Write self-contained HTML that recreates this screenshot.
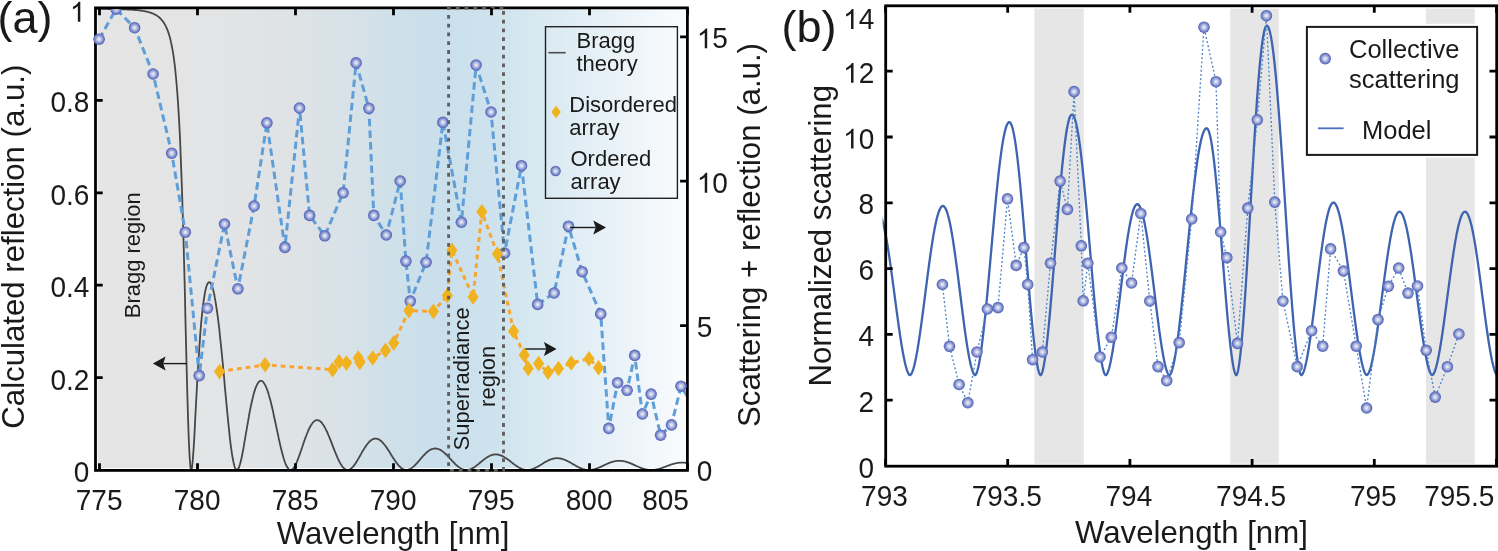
<!DOCTYPE html><html><head><meta charset="utf-8"><style>html,body{margin:0;padding:0;background:#fff;}svg{display:block;will-change:transform;}</style></head><body><svg width="1498" height="551" viewBox="0 0 1498 551">
<defs>
<linearGradient id="bgA" x1="95.5" y1="0" x2="687.3" y2="0" gradientUnits="userSpaceOnUse">
<stop offset="0" stop-color="#e5e5e5"/>
<stop offset="0.2" stop-color="#e3e4e5"/>
<stop offset="0.33" stop-color="#dfe3e6"/>
<stop offset="0.42" stop-color="#d8e2e8"/>
<stop offset="0.5" stop-color="#cfe0e9"/>
<stop offset="0.58" stop-color="#c9dfeb"/>
<stop offset="0.66" stop-color="#cde2ed"/>
<stop offset="0.75" stop-color="#d8e9f1"/>
<stop offset="0.88" stop-color="#e9f2f8"/>
<stop offset="1" stop-color="#fafcfe"/>
</linearGradient>
<radialGradient id="sph" cx="0.5" cy="0.5" r="0.5" fx="0.5" fy="0.5">
<stop offset="0" stop-color="#f3f3f9"/>
<stop offset="0.35" stop-color="#c1c8e6"/>
<stop offset="0.72" stop-color="#7a89cb"/>
<stop offset="1" stop-color="#4b5db4"/>
</radialGradient>
<clipPath id="clipA"><rect x="95.5" y="8" width="591.8" height="462"/></clipPath>
<clipPath id="clipTop"><rect x="95.5" y="9.2" width="591.8" height="461"/></clipPath>
<clipPath id="clipB"><rect x="882.6" y="5.8" width="614.1" height="460.4"/></clipPath>
</defs>
<rect width="1498" height="551" fill="#fff"/>
<rect x="97.7" y="9.7" width="587.6" height="458.3" fill="url(#bgA)"/>
<g clip-path="url(#clipA)">
<path d="M93.6,8.9 L94.0,8.9 L94.4,8.9 L94.8,8.9 L95.2,8.9 L95.6,8.9 L96.0,8.9 L96.4,8.9 L96.8,8.9 L97.1,8.9 L97.5,8.9 L97.9,8.9 L98.3,8.9 L98.7,8.9 L99.1,8.9 L99.5,8.9 L99.9,8.9 L100.3,8.9 L100.7,8.9 L101.1,8.9 L101.5,8.9 L101.9,8.9 L102.2,8.9 L102.6,8.9 L103.0,8.9 L103.4,8.9 L103.8,8.9 L104.2,8.9 L104.6,8.9 L105.0,8.9 L105.4,8.9 L105.8,8.9 L106.2,8.9 L106.6,8.9 L106.9,8.9 L107.3,8.9 L107.7,8.9 L108.1,9.0 L108.5,9.0 L108.9,9.0 L109.3,9.0 L109.7,9.0 L110.1,9.0 L110.5,9.0 L110.9,9.0 L111.3,9.0 L111.7,9.0 L112.0,9.0 L112.4,9.0 L112.8,9.0 L113.2,9.0 L113.6,9.0 L114.0,9.0 L114.4,9.0 L114.8,9.0 L115.2,9.1 L115.6,9.1 L116.0,9.1 L116.4,9.1 L116.7,9.1 L117.1,9.1 L117.5,9.1 L117.9,9.1 L118.3,9.1 L118.7,9.1 L119.1,9.1 L119.5,9.2 L119.9,9.2 L120.3,9.2 L120.7,9.2 L121.1,9.2 L121.5,9.2 L121.8,9.2 L122.2,9.2 L122.6,9.3 L123.0,9.3 L123.4,9.3 L123.8,9.3 L124.2,9.3 L124.6,9.3 L125.0,9.3 L125.4,9.4 L125.8,9.4 L126.2,9.4 L126.5,9.4 L126.9,9.4 L127.3,9.4 L127.7,9.5 L128.1,9.5 L128.5,9.5 L128.9,9.5 L129.3,9.6 L129.7,9.6 L130.1,9.6 L130.5,9.6 L130.9,9.6 L131.3,9.7 L131.6,9.7 L132.0,9.7 L132.4,9.8 L132.8,9.8 L133.2,9.8 L133.6,9.8 L134.0,9.9 L134.4,9.9 L134.8,9.9 L135.2,10.0 L135.6,10.0 L136.0,10.0 L136.3,10.1 L136.7,10.1 L137.1,10.2 L137.5,10.2 L137.9,10.2 L138.3,10.3 L138.7,10.3 L139.1,10.4 L139.5,10.4 L139.9,10.5 L140.3,10.5 L140.7,10.6 L141.1,10.6 L141.4,10.7 L141.8,10.7 L142.2,10.8 L142.6,10.9 L143.0,10.9 L143.4,11.0 L143.8,11.1 L144.2,11.1 L144.6,11.2 L145.0,11.3 L145.4,11.4 L145.8,11.4 L146.1,11.5 L146.5,11.6 L146.9,11.7 L147.3,11.8 L147.7,11.9 L148.1,12.0 L148.5,12.1 L148.9,12.2 L149.3,12.3 L149.7,12.4 L150.1,12.5 L150.5,12.7 L150.9,12.8 L151.2,12.9 L151.6,13.1 L152.0,13.2 L152.4,13.4 L152.8,13.5 L153.2,13.7 L153.6,13.9 L154.0,14.1 L154.4,14.3 L154.8,14.5 L155.2,14.7 L155.6,14.9 L155.9,15.1 L156.3,15.3 L156.7,15.6 L157.1,15.8 L157.5,16.1 L157.9,16.4 L158.3,16.7 L158.7,17.0 L159.1,17.3 L159.5,17.6 L159.9,18.0 L160.3,18.4 L160.7,18.8 L161.0,19.2 L161.4,19.6 L161.8,20.1 L162.2,20.5 L162.6,21.0 L163.0,21.6 L163.4,22.1 L163.8,22.7 L164.2,23.3 L164.6,24.0 L165.0,24.6 L165.4,25.4 L165.7,26.1 L166.1,26.9 L166.5,27.8 L166.9,28.7 L167.3,29.6 L167.7,30.7 L168.1,31.7 L168.5,32.9 L168.9,34.1 L169.3,35.4 L169.7,36.7 L170.1,38.2 L170.5,39.7 L170.8,41.4 L171.2,43.1 L171.6,45.0 L172.0,47.0 L172.4,49.2 L172.8,51.4 L173.2,53.9 L173.6,56.5 L174.0,59.3 L174.4,62.3 L174.8,65.5 L175.2,68.9 L175.5,72.6 L175.9,76.5 L176.3,80.7 L176.7,85.3 L177.1,90.2 L177.5,95.4 L177.9,101.0 L178.3,107.1 L178.7,113.6 L179.1,120.5 L179.5,128.0 L179.9,136.0 L180.3,144.6 L180.6,153.8 L181.0,163.6 L181.4,174.1 L181.8,185.2 L182.2,197.1 L182.6,209.6 L183.0,222.7 L183.4,236.6 L183.8,251.1 L184.2,266.1 L184.6,281.6 L185.0,297.5 L185.3,313.7 L185.7,330.0 L186.1,346.2 L186.5,362.2 L186.9,377.8 L187.3,392.7 L187.7,406.7 L188.1,419.7 L188.5,431.4 L188.9,441.8 L189.3,450.5 L189.7,457.7 L190.1,463.2 L190.4,467.1 L190.8,469.3 L191.2,470.0 L191.6,469.2 L192.0,467.2 L192.4,463.9 L192.8,459.7 L193.2,454.5 L193.6,448.7 L194.0,442.3 L194.4,435.5 L194.8,428.3 L195.1,420.9 L195.5,413.5 L195.9,406.0 L196.3,398.5 L196.7,391.1 L197.1,383.9 L197.5,376.9 L197.9,370.1 L198.3,363.5 L198.7,357.2 L199.1,351.1 L199.5,345.4 L199.9,339.9 L200.2,334.7 L200.6,329.7 L201.0,325.1 L201.4,320.7 L201.8,316.6 L202.2,312.8 L202.6,309.2 L203.0,305.9 L203.4,302.8 L203.8,300.0 L204.2,297.4 L204.6,295.0 L204.9,292.8 L205.3,290.9 L205.7,289.2 L206.1,287.6 L206.5,286.3 L206.9,285.2 L207.3,284.2 L207.7,283.5 L208.1,282.9 L208.5,282.5 L208.9,282.3 L209.3,282.2 L209.7,282.3 L210.0,282.5 L210.4,282.9 L210.8,283.5 L211.2,284.2 L211.6,285.1 L212.0,286.1 L212.4,287.3 L212.8,288.6 L213.2,290.1 L213.6,291.6 L214.0,293.4 L214.4,295.2 L214.7,297.2 L215.1,299.4 L215.5,301.6 L215.9,304.0 L216.3,306.6 L216.7,309.2 L217.1,312.0 L217.5,314.8 L217.9,317.8 L218.3,321.0 L218.7,324.2 L219.1,327.5 L219.5,331.0 L219.8,334.5 L220.2,338.1 L220.6,341.9 L221.0,345.7 L221.4,349.6 L221.8,353.5 L222.2,357.6 L222.6,361.6 L223.0,365.8 L223.4,370.0 L223.8,374.2 L224.2,378.5 L224.5,382.8 L224.9,387.1 L225.3,391.4 L225.7,395.7 L226.1,399.9 L226.5,404.2 L226.9,408.4 L227.3,412.5 L227.7,416.6 L228.1,420.6 L228.5,424.6 L228.9,428.4 L229.3,432.1 L229.6,435.7 L230.0,439.1 L230.4,442.4 L230.8,445.6 L231.2,448.6 L231.6,451.4 L232.0,454.1 L232.4,456.5 L232.8,458.8 L233.2,460.8 L233.6,462.7 L234.0,464.3 L234.3,465.8 L234.7,467.0 L235.1,468.0 L235.5,468.8 L235.9,469.4 L236.3,469.8 L236.7,470.0 L237.1,470.0 L237.5,469.8 L237.9,469.4 L238.3,468.8 L238.7,468.0 L239.1,467.1 L239.4,466.0 L239.8,464.8 L240.2,463.4 L240.6,461.9 L241.0,460.3 L241.4,458.6 L241.8,456.7 L242.2,454.8 L242.6,452.8 L243.0,450.7 L243.4,448.6 L243.8,446.4 L244.1,444.2 L244.5,441.9 L244.9,439.6 L245.3,437.3 L245.7,434.9 L246.1,432.6 L246.5,430.3 L246.9,427.9 L247.3,425.6 L247.7,423.4 L248.1,421.1 L248.5,418.9 L248.9,416.7 L249.2,414.5 L249.6,412.4 L250.0,410.4 L250.4,408.4 L250.8,406.4 L251.2,404.5 L251.6,402.7 L252.0,401.0 L252.4,399.3 L252.8,397.6 L253.2,396.1 L253.6,394.6 L253.9,393.2 L254.3,391.8 L254.7,390.6 L255.1,389.4 L255.5,388.3 L255.9,387.2 L256.3,386.3 L256.7,385.4 L257.1,384.6 L257.5,383.8 L257.9,383.2 L258.3,382.6 L258.7,382.1 L259.0,381.7 L259.4,381.4 L259.8,381.1 L260.2,380.9 L260.6,380.8 L261.0,380.8 L261.4,380.9 L261.8,381.0 L262.2,381.2 L262.6,381.4 L263.0,381.8 L263.4,382.2 L263.7,382.7 L264.1,383.2 L264.5,383.9 L264.9,384.6 L265.3,385.3 L265.7,386.1 L266.1,387.0 L266.5,388.0 L266.9,389.0 L267.3,390.1 L267.7,391.2 L268.1,392.4 L268.5,393.6 L268.8,394.9 L269.2,396.3 L269.6,397.7 L270.0,399.1 L270.4,400.6 L270.8,402.1 L271.2,403.7 L271.6,405.3 L272.0,407.0 L272.4,408.7 L272.8,410.4 L273.2,412.1 L273.5,413.9 L273.9,415.7 L274.3,417.5 L274.7,419.3 L275.1,421.2 L275.5,423.0 L275.9,424.9 L276.3,426.8 L276.7,428.6 L277.1,430.5 L277.5,432.4 L277.9,434.2 L278.3,436.0 L278.6,437.9 L279.0,439.7 L279.4,441.4 L279.8,443.2 L280.2,444.9 L280.6,446.6 L281.0,448.3 L281.4,449.9 L281.8,451.4 L282.2,452.9 L282.6,454.4 L283.0,455.8 L283.3,457.2 L283.7,458.5 L284.1,459.7 L284.5,460.9 L284.9,462.0 L285.3,463.1 L285.7,464.1 L286.1,465.0 L286.5,465.8 L286.9,466.6 L287.3,467.2 L287.7,467.9 L288.1,468.4 L288.4,468.8 L288.8,469.2 L289.2,469.5 L289.6,469.8 L290.0,469.9 L290.4,470.0 L290.8,470.0 L291.2,469.9 L291.6,469.8 L292.0,469.6 L292.4,469.3 L292.8,468.9 L293.1,468.5 L293.5,468.1 L293.9,467.5 L294.3,466.9 L294.7,466.3 L295.1,465.6 L295.5,464.8 L295.9,464.0 L296.3,463.2 L296.7,462.3 L297.1,461.4 L297.5,460.4 L297.9,459.4 L298.2,458.4 L298.6,457.4 L299.0,456.3 L299.4,455.2 L299.8,454.1 L300.2,452.9 L300.6,451.8 L301.0,450.7 L301.4,449.5 L301.8,448.3 L302.2,447.2 L302.6,446.0 L302.9,444.9 L303.3,443.7 L303.7,442.6 L304.1,441.4 L304.5,440.3 L304.9,439.2 L305.3,438.1 L305.7,437.1 L306.1,436.0 L306.5,435.0 L306.9,434.0 L307.3,433.0 L307.7,432.1 L308.0,431.2 L308.4,430.3 L308.8,429.4 L309.2,428.6 L309.6,427.8 L310.0,427.0 L310.4,426.3 L310.8,425.6 L311.2,425.0 L311.6,424.4 L312.0,423.8 L312.4,423.3 L312.7,422.8 L313.1,422.3 L313.5,421.9 L313.9,421.6 L314.3,421.2 L314.7,420.9 L315.1,420.7 L315.5,420.5 L315.9,420.3 L316.3,420.2 L316.7,420.1 L317.1,420.1 L317.5,420.1 L317.8,420.2 L318.2,420.3 L318.6,420.4 L319.0,420.6 L319.4,420.8 L319.8,421.0 L320.2,421.3 L320.6,421.6 L321.0,422.0 L321.4,422.4 L321.8,422.8 L322.2,423.3 L322.5,423.8 L322.9,424.4 L323.3,424.9 L323.7,425.6 L324.1,426.2 L324.5,426.9 L324.9,427.6 L325.3,428.3 L325.7,429.1 L326.1,429.8 L326.5,430.7 L326.9,431.5 L327.3,432.3 L327.6,433.2 L328.0,434.1 L328.4,435.0 L328.8,436.0 L329.2,436.9 L329.6,437.9 L330.0,438.8 L330.4,439.8 L330.8,440.8 L331.2,441.8 L331.6,442.8 L332.0,443.8 L332.3,444.9 L332.7,445.9 L333.1,446.9 L333.5,447.9 L333.9,448.9 L334.3,449.9 L334.7,450.9 L335.1,451.9 L335.5,452.8 L335.9,453.8 L336.3,454.8 L336.7,455.7 L337.1,456.6 L337.4,457.5 L337.8,458.4 L338.2,459.2 L338.6,460.0 L339.0,460.8 L339.4,461.6 L339.8,462.4 L340.2,463.1 L340.6,463.8 L341.0,464.4 L341.4,465.0 L341.8,465.6 L342.1,466.2 L342.5,466.7 L342.9,467.2 L343.3,467.6 L343.7,468.0 L344.1,468.4 L344.5,468.7 L344.9,469.0 L345.3,469.3 L345.7,469.5 L346.1,469.7 L346.5,469.8 L346.9,469.9 L347.2,470.0 L347.6,470.0 L348.0,470.0 L348.4,469.9 L348.8,469.8 L349.2,469.7 L349.6,469.5 L350.0,469.3 L350.4,469.1 L350.8,468.8 L351.2,468.5 L351.6,468.2 L351.9,467.8 L352.3,467.5 L352.7,467.0 L353.1,466.6 L353.5,466.1 L353.9,465.6 L354.3,465.1 L354.7,464.6 L355.1,464.0 L355.5,463.4 L355.9,462.8 L356.3,462.2 L356.7,461.6 L357.0,460.9 L357.4,460.3 L357.8,459.6 L358.2,458.9 L358.6,458.3 L359.0,457.6 L359.4,456.9 L359.8,456.2 L360.2,455.5 L360.6,454.8 L361.0,454.1 L361.4,453.4 L361.7,452.7 L362.1,452.1 L362.5,451.4 L362.9,450.7 L363.3,450.1 L363.7,449.4 L364.1,448.8 L364.5,448.1 L364.9,447.5 L365.3,446.9 L365.7,446.4 L366.1,445.8 L366.5,445.2 L366.8,444.7 L367.2,444.2 L367.6,443.7 L368.0,443.2 L368.4,442.8 L368.8,442.3 L369.2,441.9 L369.6,441.5 L370.0,441.1 L370.4,440.8 L370.8,440.5 L371.2,440.2 L371.5,439.9 L371.9,439.7 L372.3,439.4 L372.7,439.2 L373.1,439.1 L373.5,438.9 L373.9,438.8 L374.3,438.7 L374.7,438.6 L375.1,438.6 L375.5,438.6 L375.9,438.6 L376.3,438.6 L376.6,438.7 L377.0,438.8 L377.4,438.9 L377.8,439.0 L378.2,439.2 L378.6,439.3 L379.0,439.5 L379.4,439.8 L379.8,440.0 L380.2,440.3 L380.6,440.6 L381.0,440.9 L381.3,441.3 L381.7,441.6 L382.1,442.0 L382.5,442.4 L382.9,442.8 L383.3,443.3 L383.7,443.7 L384.1,444.2 L384.5,444.7 L384.9,445.2 L385.3,445.7 L385.7,446.3 L386.1,446.8 L386.4,447.4 L386.8,447.9 L387.2,448.5 L387.6,449.1 L388.0,449.7 L388.4,450.3 L388.8,450.9 L389.2,451.5 L389.6,452.1 L390.0,452.8 L390.4,453.4 L390.8,454.0 L391.1,454.7 L391.5,455.3 L391.9,455.9 L392.3,456.5 L392.7,457.2 L393.1,457.8 L393.5,458.4 L393.9,459.0 L394.3,459.6 L394.7,460.2 L395.1,460.7 L395.5,461.3 L395.9,461.9 L396.2,462.4 L396.6,462.9 L397.0,463.5 L397.4,464.0 L397.8,464.4 L398.2,464.9 L398.6,465.4 L399.0,465.8 L399.4,466.2 L399.8,466.6 L400.2,467.0 L400.6,467.4 L400.9,467.7 L401.3,468.0 L401.7,468.3 L402.1,468.6 L402.5,468.8 L402.9,469.0 L403.3,469.2 L403.7,469.4 L404.1,469.6 L404.5,469.7 L404.9,469.8 L405.3,469.9 L405.7,470.0 L406.0,470.0 L406.4,470.0 L406.8,470.0 L407.2,470.0 L407.6,469.9 L408.0,469.8 L408.4,469.7 L408.8,469.6 L409.2,469.4 L409.6,469.3 L410.0,469.1 L410.4,468.9 L410.7,468.7 L411.1,468.4 L411.5,468.2 L411.9,467.9 L412.3,467.6 L412.7,467.3 L413.1,466.9 L413.5,466.6 L413.9,466.2 L414.3,465.9 L414.7,465.5 L415.1,465.1 L415.5,464.7 L415.8,464.3 L416.2,463.9 L416.6,463.4 L417.0,463.0 L417.4,462.6 L417.8,462.1 L418.2,461.7 L418.6,461.2 L419.0,460.8 L419.4,460.3 L419.8,459.8 L420.2,459.4 L420.5,458.9 L420.9,458.5 L421.3,458.0 L421.7,457.6 L422.1,457.1 L422.5,456.7 L422.9,456.2 L423.3,455.8 L423.7,455.4 L424.1,455.0 L424.5,454.6 L424.9,454.2 L425.3,453.8 L425.6,453.4 L426.0,453.0 L426.4,452.7 L426.8,452.3 L427.2,452.0 L427.6,451.7 L428.0,451.4 L428.4,451.1 L428.8,450.8 L429.2,450.5 L429.6,450.3 L430.0,450.0 L430.3,449.8 L430.7,449.6 L431.1,449.4 L431.5,449.3 L431.9,449.1 L432.3,449.0 L432.7,448.9 L433.1,448.8 L433.5,448.7 L433.9,448.6 L434.3,448.6 L434.7,448.5 L435.1,448.5 L435.4,448.5 L435.8,448.5 L436.2,448.6 L436.6,448.6 L437.0,448.7 L437.4,448.8 L437.8,448.9 L438.2,449.0 L438.6,449.1 L439.0,449.3 L439.4,449.5 L439.8,449.6 L440.1,449.8 L440.5,450.1 L440.9,450.3 L441.3,450.5 L441.7,450.8 L442.1,451.1 L442.5,451.3 L442.9,451.6 L443.3,451.9 L443.7,452.3 L444.1,452.6 L444.5,452.9 L444.9,453.3 L445.2,453.6 L445.6,454.0 L446.0,454.4 L446.4,454.8 L446.8,455.1 L447.2,455.5 L447.6,455.9 L448.0,456.3 L448.4,456.8 L448.8,457.2 L449.2,457.6 L449.6,458.0 L449.9,458.4 L450.3,458.9 L450.7,459.3 L451.1,459.7 L451.5,460.1 L451.9,460.6 L452.3,461.0 L452.7,461.4 L453.1,461.8 L453.5,462.2 L453.9,462.6 L454.3,463.0 L454.7,463.4 L455.0,463.8 L455.4,464.2 L455.8,464.6 L456.2,464.9 L456.6,465.3 L457.0,465.6 L457.4,466.0 L457.8,466.3 L458.2,466.6 L458.6,466.9 L459.0,467.2 L459.4,467.5 L459.7,467.7 L460.1,468.0 L460.5,468.2 L460.9,468.5 L461.3,468.7 L461.7,468.9 L462.1,469.0 L462.5,469.2 L462.9,469.4 L463.3,469.5 L463.7,469.6 L464.1,469.7 L464.5,469.8 L464.8,469.9 L465.2,469.9 L465.6,470.0 L466.0,470.0 L466.4,470.0 L466.8,470.0 L467.2,470.0 L467.6,469.9 L468.0,469.9 L468.4,469.8 L468.8,469.7 L469.2,469.6 L469.5,469.5 L469.9,469.4 L470.3,469.3 L470.7,469.1 L471.1,468.9 L471.5,468.8 L471.9,468.6 L472.3,468.4 L472.7,468.1 L473.1,467.9 L473.5,467.7 L473.9,467.4 L474.3,467.2 L474.6,466.9 L475.0,466.7 L475.4,466.4 L475.8,466.1 L476.2,465.8 L476.6,465.5 L477.0,465.2 L477.4,464.9 L477.8,464.6 L478.2,464.3 L478.6,463.9 L479.0,463.6 L479.3,463.3 L479.7,463.0 L480.1,462.7 L480.5,462.3 L480.9,462.0 L481.3,461.7 L481.7,461.4 L482.1,461.0 L482.5,460.7 L482.9,460.4 L483.3,460.1 L483.7,459.8 L484.1,459.5 L484.4,459.2 L484.8,458.9 L485.2,458.6 L485.6,458.3 L486.0,458.0 L486.4,457.8 L486.8,457.5 L487.2,457.3 L487.6,457.0 L488.0,456.8 L488.4,456.6 L488.8,456.4 L489.1,456.2 L489.5,456.0 L489.9,455.8 L490.3,455.6 L490.7,455.5 L491.1,455.3 L491.5,455.2 L491.9,455.0 L492.3,454.9 L492.7,454.8 L493.1,454.7 L493.5,454.6 L493.9,454.6 L494.2,454.5 L494.6,454.5 L495.0,454.4 L495.4,454.4 L495.8,454.4 L496.2,454.4 L496.6,454.4 L497.0,454.5 L497.4,454.5 L497.8,454.6 L498.2,454.6 L498.6,454.7 L498.9,454.8 L499.3,454.9 L499.7,455.0 L500.1,455.2 L500.5,455.3 L500.9,455.4 L501.3,455.6 L501.7,455.8 L502.1,455.9 L502.5,456.1 L502.9,456.3 L503.3,456.5 L503.7,456.7 L504.0,457.0 L504.4,457.2 L504.8,457.4 L505.2,457.7 L505.6,457.9 L506.0,458.2 L506.4,458.4 L506.8,458.7 L507.2,459.0 L507.6,459.3 L508.0,459.6 L508.4,459.9 L508.7,460.1 L509.1,460.4 L509.5,460.7 L509.9,461.0 L510.3,461.3 L510.7,461.6 L511.1,462.0 L511.5,462.3 L511.9,462.6 L512.3,462.9 L512.7,463.2 L513.1,463.5 L513.5,463.8 L513.8,464.1 L514.2,464.4 L514.6,464.7 L515.0,464.9 L515.4,465.2 L515.8,465.5 L516.2,465.8 L516.6,466.0 L517.0,466.3 L517.4,466.6 L517.8,466.8 L518.2,467.1 L518.5,467.3 L518.9,467.5 L519.3,467.7 L519.7,467.9 L520.1,468.1 L520.5,468.3 L520.9,468.5 L521.3,468.7 L521.7,468.9 L522.1,469.0 L522.5,469.1 L522.9,469.3 L523.3,469.4 L523.6,469.5 L524.0,469.6 L524.4,469.7 L524.8,469.8 L525.2,469.8 L525.6,469.9 L526.0,469.9 L526.4,470.0 L526.8,470.0 L527.2,470.0 L527.6,470.0 L528.0,470.0 L528.3,470.0 L528.7,469.9 L529.1,469.9 L529.5,469.8 L529.9,469.8 L530.3,469.7 L530.7,469.6 L531.1,469.5 L531.5,469.4 L531.9,469.3 L532.3,469.1 L532.7,469.0 L533.1,468.9 L533.4,468.7 L533.8,468.6 L534.2,468.4 L534.6,468.2 L535.0,468.0 L535.4,467.8 L535.8,467.6 L536.2,467.4 L536.6,467.2 L537.0,467.0 L537.4,466.8 L537.8,466.6 L538.1,466.4 L538.5,466.1 L538.9,465.9 L539.3,465.7 L539.7,465.4 L540.1,465.2 L540.5,465.0 L540.9,464.7 L541.3,464.5 L541.7,464.2 L542.1,464.0 L542.5,463.7 L542.9,463.5 L543.2,463.3 L543.6,463.0 L544.0,462.8 L544.4,462.6 L544.8,462.3 L545.2,462.1 L545.6,461.9 L546.0,461.7 L546.4,461.4 L546.8,461.2 L547.2,461.0 L547.6,460.8 L547.9,460.6 L548.3,460.4 L548.7,460.3 L549.1,460.1 L549.5,459.9 L549.9,459.7 L550.3,459.6 L550.7,459.4 L551.1,459.3 L551.5,459.2 L551.9,459.0 L552.3,458.9 L552.7,458.8 L553.0,458.7 L553.4,458.6 L553.8,458.5 L554.2,458.5 L554.6,458.4 L555.0,458.4 L555.4,458.3 L555.8,458.3 L556.2,458.2 L556.6,458.2 L557.0,458.2 L557.4,458.2 L557.7,458.2 L558.1,458.2 L558.5,458.3 L558.9,458.3 L559.3,458.3 L559.7,458.4 L560.1,458.5 L560.5,458.5 L560.9,458.6 L561.3,458.7 L561.7,458.8 L562.1,458.9 L562.5,459.0 L562.8,459.1 L563.2,459.3 L563.6,459.4 L564.0,459.5 L564.4,459.7 L564.8,459.8 L565.2,460.0 L565.6,460.2 L566.0,460.3 L566.4,460.5 L566.8,460.7 L567.2,460.9 L567.5,461.1 L567.9,461.3 L568.3,461.5 L568.7,461.7 L569.1,461.9 L569.5,462.1 L569.9,462.3 L570.3,462.6 L570.7,462.8 L571.1,463.0 L571.5,463.2 L571.9,463.5 L572.3,463.7 L572.6,463.9 L573.0,464.2 L573.4,464.4 L573.8,464.6 L574.2,464.8 L574.6,465.1 L575.0,465.3 L575.4,465.5 L575.8,465.7 L576.2,466.0 L576.6,466.2 L577.0,466.4 L577.3,466.6 L577.7,466.8 L578.1,467.0 L578.5,467.2 L578.9,467.4 L579.3,467.6 L579.7,467.8 L580.1,467.9 L580.5,468.1 L580.9,468.3 L581.3,468.4 L581.7,468.6 L582.1,468.7 L582.4,468.9 L582.8,469.0 L583.2,469.1 L583.6,469.2 L584.0,469.3 L584.4,469.4 L584.8,469.5 L585.2,469.6 L585.6,469.7 L586.0,469.8 L586.4,469.8 L586.8,469.9 L587.1,469.9 L587.5,469.9 L587.9,470.0 L588.3,470.0 L588.7,470.0 L589.1,470.0 L589.5,470.0 L589.9,470.0 L590.3,470.0 L590.7,469.9 L591.1,469.9 L591.5,469.8 L591.9,469.8 L592.2,469.7 L592.6,469.6 L593.0,469.6 L593.4,469.5 L593.8,469.4 L594.2,469.3 L594.6,469.2 L595.0,469.1 L595.4,468.9 L595.8,468.8 L596.2,468.7 L596.6,468.6 L596.9,468.4 L597.3,468.3 L597.7,468.1 L598.1,468.0 L598.5,467.8 L598.9,467.6 L599.3,467.5 L599.7,467.3 L600.1,467.1 L600.5,466.9 L600.9,466.8 L601.3,466.6 L601.7,466.4 L602.0,466.2 L602.4,466.0 L602.8,465.8 L603.2,465.7 L603.6,465.5 L604.0,465.3 L604.4,465.1 L604.8,464.9 L605.2,464.7 L605.6,464.5 L606.0,464.4 L606.4,464.2 L606.7,464.0 L607.1,463.8 L607.5,463.7 L607.9,463.5 L608.3,463.3 L608.7,463.2 L609.1,463.0 L609.5,462.8 L609.9,462.7 L610.3,462.5 L610.7,462.4 L611.1,462.3 L611.5,462.1 L611.8,462.0 L612.2,461.9 L612.6,461.8 L613.0,461.7 L613.4,461.6 L613.8,461.5 L614.2,461.4 L614.6,461.3 L615.0,461.2 L615.4,461.1 L615.8,461.1 L616.2,461.0 L616.5,460.9 L616.9,460.9 L617.3,460.9 L617.7,460.8 L618.1,460.8 L618.5,460.8 L618.9,460.8 L619.3,460.8 L619.7,460.8 L620.1,460.8 L620.5,460.8 L620.9,460.8 L621.3,460.9 L621.6,460.9 L622.0,460.9 L622.4,461.0 L622.8,461.1 L623.2,461.1 L623.6,461.2 L624.0,461.3 L624.4,461.3 L624.8,461.4 L625.2,461.5 L625.6,461.6 L626.0,461.7 L626.3,461.9 L626.7,462.0 L627.1,462.1 L627.5,462.2 L627.9,462.4 L628.3,462.5 L628.7,462.6 L629.1,462.8 L629.5,462.9 L629.9,463.1 L630.3,463.2 L630.7,463.4 L631.1,463.6 L631.4,463.7 L631.8,463.9 L632.2,464.1 L632.6,464.2 L633.0,464.4 L633.4,464.6 L633.8,464.8 L634.2,464.9 L634.6,465.1 L635.0,465.3 L635.4,465.5 L635.8,465.7 L636.1,465.8 L636.5,466.0 L636.9,466.2 L637.3,466.4 L637.7,466.5 L638.1,466.7 L638.5,466.9 L638.9,467.0 L639.3,467.2 L639.7,467.4 L640.1,467.5 L640.5,467.7 L640.9,467.8 L641.2,468.0 L641.6,468.1 L642.0,468.3 L642.4,468.4 L642.8,468.5 L643.2,468.7 L643.6,468.8 L644.0,468.9 L644.4,469.0 L644.8,469.1 L645.2,469.2 L645.6,469.3 L645.9,469.4 L646.3,469.5 L646.7,469.6 L647.1,469.6 L647.5,469.7 L647.9,469.8 L648.3,469.8 L648.7,469.9 L649.1,469.9 L649.5,469.9 L649.9,470.0 L650.3,470.0 L650.7,470.0 L651.0,470.0 L651.4,470.0 L651.8,470.0 L652.2,470.0 L652.6,470.0 L653.0,469.9 L653.4,469.9 L653.8,469.9 L654.2,469.8 L654.6,469.8 L655.0,469.7 L655.4,469.7 L655.7,469.6 L656.1,469.5 L656.5,469.4 L656.9,469.4 L657.3,469.3 L657.7,469.2 L658.1,469.1 L658.5,469.0 L658.9,468.9 L659.3,468.8 L659.7,468.7 L660.1,468.5 L660.5,468.4 L660.8,468.3 L661.2,468.2 L661.6,468.0 L662.0,467.9 L662.4,467.8 L662.8,467.6 L663.2,467.5 L663.6,467.3 L664.0,467.2 L664.4,467.0 L664.8,466.9 L665.2,466.8 L665.5,466.6 L665.9,466.5 L666.3,466.3 L666.7,466.2 L667.1,466.0 L667.5,465.9 L667.9,465.7 L668.3,465.6 L668.7,465.4 L669.1,465.3 L669.5,465.1 L669.9,465.0 L670.3,464.9 L670.6,464.7 L671.0,464.6 L671.4,464.5 L671.8,464.3 L672.2,464.2 L672.6,464.1 L673.0,464.0 L673.4,463.9 L673.8,463.8 L674.2,463.7 L674.6,463.6 L675.0,463.5 L675.3,463.4 L675.7,463.3 L676.1,463.2 L676.5,463.1 L676.9,463.1 L677.3,463.0 L677.7,462.9 L678.1,462.9 L678.5,462.8 L678.9,462.8 L679.3,462.7 L679.7,462.7 L680.1,462.7 L680.4,462.6 L680.8,462.6 L681.2,462.6 L681.6,462.6 L682.0,462.6 L682.4,462.6 L682.8,462.6 L683.2,462.6 L683.6,462.6 L684.0,462.7 L684.4,462.7 L684.8,462.7 L685.1,462.8 L685.5,462.8 L685.9,462.9 L686.3,462.9 L686.7,463.0 L687.1,463.0 L687.5,463.1 L687.9,463.2 L688.3,463.3 L688.7,463.4 L689.1,463.4 L689.5,463.5 L689.9,463.6 L690.2,463.7 L690.6,463.8 L691.0,463.9 L691.4,464.1 L691.8,464.2 L692.2,464.3 L692.6,464.4 L693.0,464.5 L693.4,464.7 L693.8,464.8 L694.2,464.9 L694.6,465.1 L694.9,465.2 L695.3,465.3 L695.7,465.5 L696.1,465.6 L696.5,465.8 L696.9,465.9 L697.3,466.0 L697.7,466.2 L698.1,466.3 L698.5,466.5 L698.9,466.6" fill="none" stroke="#474747" stroke-width="1.8"/>
<path d="M99.1,39.2 L116.1,9.1 L134.6,27.7 L153.1,74.0 L171.7,153.2 L185.3,232.2 L199.2,375.6 L207.4,308.2 L224.5,224.0 L237.9,288.8 L254.1,206.0 L266.9,122.8 L284.9,247.4 L299.5,108.0 L309.6,215.4 L324.8,235.8 L343.1,192.8 L356.1,62.9 L368.9,108.3 L373.8,215.4 L386.3,235.0 L400.2,181.0 L405.9,261.1 L410.3,301.1 L426.1,262.2 L442.9,122.4 L461.4,222.2 L476.1,65.0 L491.0,112.0 L504.5,253.2 L521.5,165.7 L537.7,304.4 L554.1,293.0 L568.5,226.2 L582.1,271.7 L600.7,313.9 L608.8,428.4 L617.6,382.7 L627.1,390.3 L634.7,355.4 L642.4,414.0 L651.1,394.1 L660.6,435.2 L671.5,424.9 L681.0,386.2 L697.0,412.0" fill="none" stroke="#5f9ed7" stroke-width="3" stroke-dasharray="7.5 4.2"/>
<path d="M219.6,371.6 L265.1,364.8 L332.6,369.7 L339.1,361.7 L346.4,363.1 L358.3,358.1 L359.8,362.5 L372.7,358.0 L385.5,350.4 L393.7,342.9 L408.9,310.6 L433.4,311.4 L447.3,295.6 L451.9,250.2 L473.1,297.0 L481.8,211.8 L497.4,254.0 L513.5,331.3 L524.2,354.9 L528.2,368.5 L538.6,363.6 L548.1,372.3 L558.5,368.5 L571.3,363.0 L589.0,358.7 L598.5,367.7" fill="none" stroke="#f7a530" stroke-width="3" stroke-dasharray="4.7 4.1"/>
</g>
<rect x="95.5" y="7.9" width="591.9" height="462.5" fill="none" stroke="#000" stroke-width="2.8"/>
<g fill="url(#sph)"><circle cx="99.1" cy="39.2" r="5.8"/><circle cx="134.6" cy="27.7" r="5.8"/><circle cx="153.1" cy="74.0" r="5.8"/><circle cx="171.7" cy="153.2" r="5.8"/><circle cx="185.3" cy="232.2" r="5.8"/><circle cx="199.2" cy="375.6" r="5.8"/><circle cx="207.4" cy="308.2" r="5.8"/><circle cx="224.5" cy="224.0" r="5.8"/><circle cx="237.9" cy="288.8" r="5.8"/><circle cx="254.1" cy="206.0" r="5.8"/><circle cx="266.9" cy="122.8" r="5.8"/><circle cx="284.9" cy="247.4" r="5.8"/><circle cx="299.5" cy="108.0" r="5.8"/><circle cx="309.6" cy="215.4" r="5.8"/><circle cx="324.8" cy="235.8" r="5.8"/><circle cx="343.1" cy="192.8" r="5.8"/><circle cx="356.1" cy="62.9" r="5.8"/><circle cx="368.9" cy="108.3" r="5.8"/><circle cx="373.8" cy="215.4" r="5.8"/><circle cx="386.3" cy="235.0" r="5.8"/><circle cx="400.2" cy="181.0" r="5.8"/><circle cx="405.9" cy="261.1" r="5.8"/><circle cx="410.3" cy="301.1" r="5.8"/><circle cx="426.1" cy="262.2" r="5.8"/><circle cx="442.9" cy="122.4" r="5.8"/><circle cx="461.4" cy="222.2" r="5.8"/><circle cx="476.1" cy="65.0" r="5.8"/><circle cx="491.0" cy="112.0" r="5.8"/><circle cx="504.5" cy="253.2" r="5.8"/><circle cx="521.5" cy="165.7" r="5.8"/><circle cx="537.7" cy="304.4" r="5.8"/><circle cx="554.1" cy="293.0" r="5.8"/><circle cx="568.5" cy="226.2" r="5.8"/><circle cx="582.1" cy="271.7" r="5.8"/><circle cx="600.7" cy="313.9" r="5.8"/><circle cx="608.8" cy="428.4" r="5.8"/><circle cx="617.6" cy="382.7" r="5.8"/><circle cx="627.1" cy="390.3" r="5.8"/><circle cx="634.7" cy="355.4" r="5.8"/><circle cx="642.4" cy="414.0" r="5.8"/><circle cx="651.1" cy="394.1" r="5.8"/><circle cx="660.6" cy="435.2" r="5.8"/><circle cx="671.5" cy="424.9" r="5.8"/><circle cx="681.0" cy="386.2" r="5.8"/></g>
<g fill="url(#sph)" clip-path="url(#clipTop)"><circle cx="116.1" cy="9.1" r="5.8"/></g>
<g fill="#f0b31f"><path d="M219.6,363.8 L225.2,371.6 L219.6,379.4 L214.0,371.6 Z"/><path d="M265.1,357.0 L270.7,364.8 L265.1,372.6 L259.5,364.8 Z"/><path d="M332.6,361.9 L338.2,369.7 L332.6,377.5 L327.0,369.7 Z"/><path d="M339.1,353.9 L344.7,361.7 L339.1,369.5 L333.5,361.7 Z"/><path d="M346.4,355.3 L352.0,363.1 L346.4,370.9 L340.8,363.1 Z"/><path d="M358.3,350.3 L363.9,358.1 L358.3,365.9 L352.7,358.1 Z"/><path d="M359.8,354.7 L365.4,362.5 L359.8,370.3 L354.2,362.5 Z"/><path d="M372.7,350.2 L378.3,358.0 L372.7,365.8 L367.1,358.0 Z"/><path d="M385.5,342.6 L391.1,350.4 L385.5,358.2 L379.9,350.4 Z"/><path d="M393.7,335.1 L399.3,342.9 L393.7,350.7 L388.1,342.9 Z"/><path d="M408.9,302.8 L414.5,310.6 L408.9,318.4 L403.3,310.6 Z"/><path d="M433.4,303.6 L439.0,311.4 L433.4,319.2 L427.8,311.4 Z"/><path d="M447.3,287.8 L452.9,295.6 L447.3,303.4 L441.7,295.6 Z"/><path d="M451.9,242.4 L457.5,250.2 L451.9,258.0 L446.3,250.2 Z"/><path d="M473.1,289.2 L478.7,297.0 L473.1,304.8 L467.5,297.0 Z"/><path d="M481.8,204.0 L487.4,211.8 L481.8,219.6 L476.2,211.8 Z"/><path d="M497.4,246.2 L503.0,254.0 L497.4,261.8 L491.8,254.0 Z"/><path d="M513.5,323.5 L519.1,331.3 L513.5,339.1 L507.9,331.3 Z"/><path d="M524.2,347.1 L529.8,354.9 L524.2,362.7 L518.6,354.9 Z"/><path d="M528.2,360.7 L533.8,368.5 L528.2,376.3 L522.6,368.5 Z"/><path d="M538.6,355.8 L544.2,363.6 L538.6,371.4 L533.0,363.6 Z"/><path d="M548.1,364.5 L553.7,372.3 L548.1,380.1 L542.5,372.3 Z"/><path d="M558.5,360.7 L564.1,368.5 L558.5,376.3 L552.9,368.5 Z"/><path d="M571.3,355.2 L576.9,363.0 L571.3,370.8 L565.7,363.0 Z"/><path d="M589.0,350.9 L594.6,358.7 L589.0,366.5 L583.4,358.7 Z"/><path d="M598.5,359.9 L604.1,367.7 L598.5,375.5 L592.9,367.7 Z"/></g>
<g fill="none" stroke="#606060" stroke-width="2.9" stroke-dasharray="3.8 4.97"><path d="M447,8 H505" stroke-dashoffset="0"/><path d="M447,470.4 H505" stroke-dashoffset="5.77"/><path d="M448.6,8 V470" stroke-dashoffset="1.77"/><path d="M503.5,8 V470" stroke-dashoffset="5.87"/></g>
<path d="M99.5,470.4 V463.2 M99.5,7.9 V15.2 M197.5,470.4 V463.2 M197.5,7.9 V15.2 M295.5,470.4 V463.2 M295.5,7.9 V15.2 M393.5,470.4 V463.2 M393.5,7.9 V15.2 M491.5,470.4 V463.2 M491.5,7.9 V15.2 M589.5,470.4 V463.2 M589.5,7.9 V15.2 M687.5,470.4 V463.2 M687.5,7.9 V15.2 M95.5,377.6 H102.7 M95.5,285.2 H102.7 M95.5,192.8 H102.7 M95.5,100.4 H102.7 M687.3,325.6 H680.1 M687.3,181.2 H680.1 M687.3,36.9 H680.1" stroke="#000" stroke-width="2.8"/>
<g transform="translate(75.8,510.1) scale(0.946,1)" fill="#1a1a1a"><text x="0.00" y="0" font-family="Liberation Sans" font-size="29.6">7</text><text x="16.46" y="0" font-family="Liberation Sans" font-size="29.6">7</text><text x="32.92" y="0" font-family="Liberation Sans" font-size="29.6">5</text></g>
<g transform="translate(173.8,510.1) scale(0.946,1)" fill="#1a1a1a"><text x="0.00" y="0" font-family="Liberation Sans" font-size="29.6">7</text><text x="16.46" y="0" font-family="Liberation Sans" font-size="29.6">8</text><text x="32.92" y="0" font-family="Liberation Sans" font-size="29.6">0</text></g>
<g transform="translate(271.8,510.1) scale(0.946,1)" fill="#1a1a1a"><text x="0.00" y="0" font-family="Liberation Sans" font-size="29.6">7</text><text x="16.46" y="0" font-family="Liberation Sans" font-size="29.6">8</text><text x="32.92" y="0" font-family="Liberation Sans" font-size="29.6">5</text></g>
<g transform="translate(369.8,510.1) scale(0.946,1)" fill="#1a1a1a"><text x="0.00" y="0" font-family="Liberation Sans" font-size="29.6">7</text><text x="16.46" y="0" font-family="Liberation Sans" font-size="29.6">9</text><text x="32.92" y="0" font-family="Liberation Sans" font-size="29.6">0</text></g>
<g transform="translate(467.8,510.1) scale(0.946,1)" fill="#1a1a1a"><text x="0.00" y="0" font-family="Liberation Sans" font-size="29.6">7</text><text x="16.46" y="0" font-family="Liberation Sans" font-size="29.6">9</text><text x="32.92" y="0" font-family="Liberation Sans" font-size="29.6">5</text></g>
<g transform="translate(565.8,510.1) scale(0.946,1)" fill="#1a1a1a"><text x="0.00" y="0" font-family="Liberation Sans" font-size="29.6">8</text><text x="16.46" y="0" font-family="Liberation Sans" font-size="29.6">0</text><text x="32.92" y="0" font-family="Liberation Sans" font-size="29.6">0</text></g>
<g transform="translate(642.2,510.1) scale(0.946,1)" fill="#1a1a1a"><text x="0.00" y="0" font-family="Liberation Sans" font-size="29.6">8</text><text x="16.46" y="0" font-family="Liberation Sans" font-size="29.6">0</text><text x="32.92" y="0" font-family="Liberation Sans" font-size="29.6">5</text></g>
<g transform="translate(73.8,482.0) scale(0.946,1)" fill="#1a1a1a"><text x="0.00" y="0" font-family="Liberation Sans" font-size="29.6">0</text></g>
<g transform="translate(50.5,389.6) scale(0.946,1)" fill="#1a1a1a"><text x="0.00" y="0" font-family="Liberation Sans" font-size="29.6">0</text><text x="16.46" y="0" font-family="Liberation Sans" font-size="29.6">.</text><text x="24.69" y="0" font-family="Liberation Sans" font-size="29.6">2</text></g>
<g transform="translate(50.5,297.2) scale(0.946,1)" fill="#1a1a1a"><text x="0.00" y="0" font-family="Liberation Sans" font-size="29.6">0</text><text x="16.46" y="0" font-family="Liberation Sans" font-size="29.6">.</text><text x="24.69" y="0" font-family="Liberation Sans" font-size="29.6">4</text></g>
<g transform="translate(50.5,204.8) scale(0.946,1)" fill="#1a1a1a"><text x="0.00" y="0" font-family="Liberation Sans" font-size="29.6">0</text><text x="16.46" y="0" font-family="Liberation Sans" font-size="29.6">.</text><text x="24.69" y="0" font-family="Liberation Sans" font-size="29.6">6</text></g>
<g transform="translate(50.5,112.4) scale(0.946,1)" fill="#1a1a1a"><text x="0.00" y="0" font-family="Liberation Sans" font-size="29.6">0</text><text x="16.46" y="0" font-family="Liberation Sans" font-size="29.6">.</text><text x="24.69" y="0" font-family="Liberation Sans" font-size="29.6">8</text></g>
<g transform="translate(69.9,21.7) scale(0.946,1)" fill="#1a1a1a"><path d="M11.0,0.0 L8.4,0.0 L8.4,-15.5 Q7.5,-14.7 6.0,-13.8 Q4.4,-13.0 3.2,-12.6 L3.2,-14.9 Q5.4,-15.9 7.0,-17.2 Q8.7,-18.6 9.3,-19.9 L11.0,-19.9 Z"/></g>
<g transform="translate(696.8,481.4) scale(0.946,1)" fill="#1a1a1a"><text x="0.00" y="0" font-family="Liberation Sans" font-size="29.6">0</text></g>
<g transform="translate(696.8,337.0) scale(0.946,1)" fill="#1a1a1a"><text x="0.00" y="0" font-family="Liberation Sans" font-size="29.6">5</text></g>
<g transform="translate(696.8,192.7) scale(0.946,1)" fill="#1a1a1a"><path d="M11.0,0.0 L8.4,0.0 L8.4,-15.5 Q7.5,-14.7 6.0,-13.8 Q4.4,-13.0 3.2,-12.6 L3.2,-14.9 Q5.4,-15.9 7.0,-17.2 Q8.7,-18.6 9.3,-19.9 L11.0,-19.9 Z"/><text x="16.46" y="0" font-family="Liberation Sans" font-size="29.6">0</text></g>
<g transform="translate(696.8,48.3) scale(0.946,1)" fill="#1a1a1a"><path d="M11.0,0.0 L8.4,0.0 L8.4,-15.5 Q7.5,-14.7 6.0,-13.8 Q4.4,-13.0 3.2,-12.6 L3.2,-14.9 Q5.4,-15.9 7.0,-17.2 Q8.7,-18.6 9.3,-19.9 L11.0,-19.9 Z"/><text x="16.46" y="0" font-family="Liberation Sans" font-size="29.6">5</text></g>
<g font-family="Liberation Sans" font-size="31.2" fill="#1a1a1a" text-anchor="middle">
<text x="393.1" y="544.4">Wavelength [nm]</text>
<text transform="translate(23.9,246.7) rotate(-90)">Calculated reflection (a.u.)</text>
<text transform="translate(760.2,235) rotate(-90)">Scattering + reflection (a.u.)</text>
<text x="1191.4" y="543">Wavelength [nm]</text>
<text transform="translate(831,235.8) rotate(-90)">Normalized scattering</text>
</g>
<g font-family="Liberation Sans" font-size="45" fill="#1a1a1a">
<text x="-2.5" y="33">(a)</text>
<text x="781.4" y="42">(b)</text>
</g>
<g font-family="Liberation Sans" font-size="22" fill="#1a1a1a" text-anchor="middle">
<text transform="translate(139.7,255.3) rotate(-90)">Bragg region</text>
<text transform="translate(469,378.9) rotate(-90)">Superradiance</text>
<text transform="translate(495,376.3) rotate(-90)">region</text>
</g>
<path d="M186.9,363.6 H163.2" stroke="#1a1a1a" stroke-width="1.4"/><path d="M152.9,363.6 L165.6,356.6 L163.2,363.6 L165.6,370.6 Z" fill="#1a1a1a"/>
<path d="M570.0,227.5 H595.7" stroke="#1a1a1a" stroke-width="1.4"/><path d="M606.0,227.5 L593.3,220.5 L595.7,227.5 L593.3,234.5 Z" fill="#1a1a1a"/>
<path d="M525.5,349.0 H546.3" stroke="#1a1a1a" stroke-width="1.4"/><path d="M556.6,349.0 L543.9,342.0 L546.3,349.0 L543.9,356.0 Z" fill="#1a1a1a"/>
<rect x="545.5" y="26.7" width="131.9" height="171.6" fill="none" stroke="#222" stroke-width="1.4"/>
<path d="M548.4,52.7 H565.7" stroke="#4d4d4d" stroke-width="1.6"/>
<g fill="#f0b31f"><path d="M556.1,105.8 L560.8,112.1 L556.1,118.3 L551.4,112.1 Z"/></g>
<circle cx="555.6" cy="171" r="5.2" fill="url(#sph)"/>
<g font-family="Liberation Sans" font-size="22" fill="#1a1a1a">
<text x="576.5" y="47.8">Bragg</text><text x="576.5" y="71.1">theory</text>
<text x="569.3" y="111.7">Disordered</text><text x="569.3" y="135">array</text>
<text x="570.5" y="166">Ordered</text><text x="570.5" y="189.3">array</text>
</g>
<rect x="1034.4" y="8.6" width="49.4" height="455.2" fill="#e6e6e6"/>
<rect x="1230.2" y="8.6" width="48.6" height="455.2" fill="#e6e6e6"/>
<rect x="1426.0" y="8.6" width="48.8" height="455.2" fill="#e6e6e6"/>
<g clip-path="url(#clipB)">
<path d="M880.0,214.0 L880.5,215.1 L881.0,216.3 L881.5,217.7 L882.0,219.2 L882.5,220.9 L883.0,222.8 L883.5,224.8 L884.0,226.9 L884.5,229.2 L885.0,231.5 L885.5,234.1 L886.0,236.7 L886.5,239.5 L887.0,242.4 L887.5,245.3 L888.0,248.4 L888.5,251.6 L889.0,254.9 L889.5,258.2 L890.0,261.7 L890.5,265.1 L891.0,268.7 L891.5,272.3 L892.0,276.0 L892.5,279.7 L893.0,283.4 L893.5,287.2 L894.0,290.9 L894.5,294.7 L895.0,298.5 L895.5,302.3 L896.0,306.1 L896.5,309.8 L897.0,313.5 L897.5,317.2 L898.0,320.9 L898.5,324.4 L899.0,328.0 L899.5,331.4 L900.0,334.8 L900.5,338.1 L901.0,341.3 L901.5,344.5 L902.0,347.5 L902.5,350.4 L903.0,353.1 L903.5,355.8 L904.0,358.3 L904.5,360.7 L905.0,362.9 L905.5,365.0 L906.0,366.9 L906.5,368.6 L907.0,370.2 L907.5,371.6 L908.0,372.7 L908.5,373.7 L909.0,374.4 L909.5,374.9 L910.0,375.1 L910.5,374.9 L911.0,374.4 L911.5,373.6 L912.0,372.6 L912.5,371.4 L913.0,370.0 L913.5,368.4 L914.0,366.6 L914.5,364.6 L915.0,362.5 L915.5,360.2 L916.0,357.7 L916.5,355.1 L917.0,352.4 L917.5,349.5 L918.0,346.5 L918.5,343.4 L919.0,340.1 L919.5,336.8 L920.0,333.4 L920.5,329.9 L921.0,326.3 L921.5,322.6 L922.0,318.9 L922.5,315.2 L923.0,311.4 L923.5,307.5 L924.0,303.6 L924.5,299.7 L925.0,295.8 L925.5,291.9 L926.0,288.0 L926.5,284.1 L927.0,280.2 L927.5,276.4 L928.0,272.5 L928.5,268.8 L929.0,265.0 L929.5,261.4 L930.0,257.8 L930.5,254.2 L931.0,250.8 L931.5,247.4 L932.0,244.1 L932.5,241.0 L933.0,237.9 L933.5,234.9 L934.0,232.1 L934.5,229.4 L935.0,226.8 L935.5,224.3 L936.0,222.0 L936.5,219.8 L937.0,217.8 L937.5,215.9 L938.0,214.2 L938.5,212.6 L939.0,211.2 L939.5,210.0 L940.0,208.9 L940.5,208.0 L941.0,207.2 L941.5,206.7 L942.0,206.3 L942.5,206.1 L943.0,206.0 L943.5,206.1 L944.0,206.4 L944.5,206.9 L945.0,207.6 L945.5,208.4 L946.0,209.5 L946.5,210.7 L947.0,212.0 L947.5,213.6 L948.0,215.3 L948.5,217.1 L949.0,219.1 L949.5,221.3 L950.0,223.6 L950.5,226.1 L951.0,228.7 L951.5,231.5 L952.0,234.4 L952.5,237.4 L953.0,240.5 L953.5,243.7 L954.0,247.0 L954.5,250.5 L955.0,254.0 L955.5,257.6 L956.0,261.3 L956.5,265.0 L957.0,268.8 L957.5,272.7 L958.0,276.6 L958.5,280.5 L959.0,284.5 L959.5,288.5 L960.0,292.5 L960.5,296.5 L961.0,300.5 L961.5,304.4 L962.0,308.4 L962.5,312.3 L963.0,316.2 L963.5,320.0 L964.0,323.8 L964.5,327.5 L965.0,331.2 L965.5,334.7 L966.0,338.2 L966.5,341.5 L967.0,344.8 L967.5,347.9 L968.0,350.9 L968.5,353.8 L969.0,356.5 L969.5,359.1 L970.0,361.5 L970.5,363.8 L971.0,365.9 L971.5,367.8 L972.0,369.5 L972.5,371.0 L973.0,372.3 L973.5,373.4 L974.0,374.2 L974.5,374.8 L975.0,375.1 L975.5,374.9 L976.0,374.3 L976.5,373.3 L977.0,372.0 L977.5,370.3 L978.0,368.4 L978.5,366.2 L979.0,363.8 L979.5,361.1 L980.0,358.1 L980.5,354.9 L981.0,351.5 L981.5,347.9 L982.0,344.1 L982.5,340.1 L983.0,335.9 L983.5,331.6 L984.0,327.0 L984.5,322.4 L985.0,317.6 L985.5,312.7 L986.0,307.6 L986.5,302.5 L987.0,297.2 L987.5,291.9 L988.0,286.5 L988.5,281.0 L989.0,275.5 L989.5,269.9 L990.0,264.3 L990.5,258.7 L991.0,253.1 L991.5,247.4 L992.0,241.8 L992.5,236.2 L993.0,230.7 L993.5,225.1 L994.0,219.7 L994.5,214.2 L995.0,208.9 L995.5,203.7 L996.0,198.5 L996.5,193.4 L997.0,188.5 L997.5,183.7 L998.0,179.0 L998.5,174.4 L999.0,170.0 L999.5,165.7 L1000.0,161.6 L1000.5,157.7 L1001.0,153.9 L1001.5,150.4 L1002.0,147.0 L1002.5,143.8 L1003.0,140.8 L1003.5,138.0 L1004.0,135.5 L1004.5,133.1 L1005.0,131.0 L1005.5,129.1 L1006.0,127.4 L1006.5,125.9 L1007.0,124.7 L1007.5,123.8 L1008.0,123.0 L1008.5,122.5 L1009.0,122.2 L1009.5,122.2 L1010.0,122.5 L1010.5,123.0 L1011.0,123.9 L1011.5,125.0 L1012.0,126.4 L1012.5,128.0 L1013.0,130.0 L1013.5,132.2 L1014.0,134.7 L1014.5,137.4 L1015.0,140.4 L1015.5,143.6 L1016.0,147.1 L1016.5,150.8 L1017.0,154.8 L1017.5,158.9 L1018.0,163.3 L1018.5,167.9 L1019.0,172.6 L1019.5,177.5 L1020.0,182.6 L1020.5,187.9 L1021.0,193.3 L1021.5,198.8 L1022.0,204.5 L1022.5,210.2 L1023.0,216.1 L1023.5,222.0 L1024.0,228.0 L1024.5,234.1 L1025.0,240.2 L1025.5,246.3 L1026.0,252.5 L1026.5,258.6 L1027.0,264.8 L1027.5,270.9 L1028.0,277.0 L1028.5,283.0 L1029.0,288.9 L1029.5,294.8 L1030.0,300.6 L1030.5,306.2 L1031.0,311.8 L1031.5,317.2 L1032.0,322.4 L1032.5,327.5 L1033.0,332.4 L1033.5,337.1 L1034.0,341.6 L1034.5,345.9 L1035.0,350.0 L1035.5,353.8 L1036.0,357.3 L1036.5,360.6 L1037.0,363.6 L1037.5,366.3 L1038.0,368.7 L1038.5,370.7 L1039.0,372.4 L1039.5,373.7 L1040.0,374.6 L1040.5,375.1 L1041.0,374.9 L1041.5,374.1 L1042.0,372.9 L1042.5,371.3 L1043.0,369.4 L1043.5,367.0 L1044.0,364.4 L1044.5,361.4 L1045.0,358.2 L1045.5,354.6 L1046.0,350.8 L1046.5,346.7 L1047.0,342.4 L1047.5,337.9 L1048.0,333.1 L1048.5,328.1 L1049.0,323.0 L1049.5,317.6 L1050.0,312.1 L1050.5,306.5 L1051.0,300.7 L1051.5,294.8 L1052.0,288.8 L1052.5,282.7 L1053.0,276.5 L1053.5,270.3 L1054.0,264.0 L1054.5,257.7 L1055.0,251.3 L1055.5,245.0 L1056.0,238.7 L1056.5,232.4 L1057.0,226.1 L1057.5,219.9 L1058.0,213.7 L1058.5,207.7 L1059.0,201.7 L1059.5,195.8 L1060.0,190.1 L1060.5,184.5 L1061.0,179.0 L1061.5,173.7 L1062.0,168.5 L1062.5,163.6 L1063.0,158.8 L1063.5,154.2 L1064.0,149.8 L1064.5,145.7 L1065.0,141.8 L1065.5,138.1 L1066.0,134.6 L1066.5,131.5 L1067.0,128.5 L1067.5,125.9 L1068.0,123.5 L1068.5,121.4 L1069.0,119.5 L1069.5,118.0 L1070.0,116.7 L1070.5,115.8 L1071.0,115.1 L1071.5,114.7 L1072.0,114.6 L1072.5,114.8 L1073.0,115.2 L1073.5,115.9 L1074.0,116.8 L1074.5,118.0 L1075.0,119.4 L1075.5,121.1 L1076.0,123.0 L1076.5,125.2 L1077.0,127.6 L1077.5,130.2 L1078.0,133.0 L1078.5,136.1 L1079.0,139.3 L1079.5,142.8 L1080.0,146.5 L1080.5,150.4 L1081.0,154.4 L1081.5,158.7 L1082.0,163.1 L1082.5,167.7 L1083.0,172.4 L1083.5,177.3 L1084.0,182.3 L1084.5,187.5 L1085.0,192.7 L1085.5,198.1 L1086.0,203.6 L1086.5,209.1 L1087.0,214.7 L1087.5,220.4 L1088.0,226.2 L1088.5,232.0 L1089.0,237.8 L1089.5,243.7 L1090.0,249.6 L1090.5,255.4 L1091.0,261.3 L1091.5,267.1 L1092.0,272.9 L1092.5,278.7 L1093.0,284.4 L1093.5,290.0 L1094.0,295.6 L1094.5,301.0 L1095.0,306.4 L1095.5,311.6 L1096.0,316.7 L1096.5,321.7 L1097.0,326.5 L1097.5,331.2 L1098.0,335.7 L1098.5,340.0 L1099.0,344.1 L1099.5,348.0 L1100.0,351.8 L1100.5,355.2 L1101.0,358.5 L1101.5,361.5 L1102.0,364.2 L1102.5,366.7 L1103.0,368.9 L1103.5,370.8 L1104.0,372.4 L1104.5,373.7 L1105.0,374.6 L1105.5,375.0 L1106.0,375.0 L1106.5,374.6 L1107.0,373.9 L1107.5,372.9 L1108.0,371.7 L1108.5,370.2 L1109.0,368.6 L1109.5,366.7 L1110.0,364.6 L1110.5,362.4 L1111.0,359.9 L1111.5,357.3 L1112.0,354.6 L1112.5,351.7 L1113.0,348.6 L1113.5,345.4 L1114.0,342.1 L1114.5,338.7 L1115.0,335.1 L1115.5,331.5 L1116.0,327.8 L1116.5,324.0 L1117.0,320.1 L1117.5,316.2 L1118.0,312.2 L1118.5,308.1 L1119.0,304.1 L1119.5,300.0 L1120.0,295.9 L1120.5,291.7 L1121.0,287.6 L1121.5,283.5 L1122.0,279.4 L1122.5,275.4 L1123.0,271.4 L1123.5,267.4 L1124.0,263.5 L1124.5,259.6 L1125.0,255.8 L1125.5,252.1 L1126.0,248.5 L1126.5,245.0 L1127.0,241.6 L1127.5,238.3 L1128.0,235.1 L1128.5,232.1 L1129.0,229.1 L1129.5,226.4 L1130.0,223.7 L1130.5,221.2 L1131.0,218.9 L1131.5,216.7 L1132.0,214.7 L1132.5,212.8 L1133.0,211.1 L1133.5,209.6 L1134.0,208.3 L1134.5,207.2 L1135.0,206.2 L1135.5,205.4 L1136.0,204.8 L1136.5,204.4 L1137.0,204.2 L1137.5,204.2 L1138.0,204.4 L1138.5,204.7 L1139.0,205.3 L1139.5,206.0 L1140.0,206.9 L1140.5,207.9 L1141.0,209.2 L1141.5,210.6 L1142.0,212.2 L1142.5,214.0 L1143.0,215.9 L1143.5,218.0 L1144.0,220.2 L1144.5,222.6 L1145.0,225.2 L1145.5,227.9 L1146.0,230.7 L1146.5,233.6 L1147.0,236.7 L1147.5,239.9 L1148.0,243.2 L1148.5,246.6 L1149.0,250.1 L1149.5,253.7 L1150.0,257.4 L1150.5,261.1 L1151.0,264.9 L1151.5,268.8 L1152.0,272.7 L1152.5,276.7 L1153.0,280.7 L1153.5,284.7 L1154.0,288.8 L1154.5,292.8 L1155.0,296.9 L1155.5,300.9 L1156.0,305.0 L1156.5,309.0 L1157.0,312.9 L1157.5,316.8 L1158.0,320.7 L1158.5,324.5 L1159.0,328.3 L1159.5,331.9 L1160.0,335.5 L1160.5,339.0 L1161.0,342.3 L1161.5,345.6 L1162.0,348.7 L1162.5,351.7 L1163.0,354.6 L1163.5,357.3 L1164.0,359.9 L1164.5,362.3 L1165.0,364.5 L1165.5,366.5 L1166.0,368.4 L1166.5,370.0 L1167.0,371.5 L1167.5,372.7 L1168.0,373.7 L1168.5,374.5 L1169.0,375.0 L1169.5,375.1 L1170.0,374.8 L1170.5,374.1 L1171.0,373.2 L1171.5,372.0 L1172.0,370.5 L1172.5,368.8 L1173.0,366.8 L1173.5,364.7 L1174.0,362.3 L1174.5,359.8 L1175.0,357.0 L1175.5,354.0 L1176.0,350.9 L1176.5,347.6 L1177.0,344.2 L1177.5,340.6 L1178.0,336.8 L1178.5,332.9 L1179.0,328.9 L1179.5,324.7 L1180.0,320.4 L1180.5,316.1 L1181.0,311.6 L1181.5,307.0 L1182.0,302.4 L1182.5,297.6 L1183.0,292.8 L1183.5,288.0 L1184.0,283.0 L1184.5,278.1 L1185.0,273.1 L1185.5,268.1 L1186.0,263.0 L1186.5,258.0 L1187.0,252.9 L1187.5,247.9 L1188.0,242.8 L1188.5,237.8 L1189.0,232.8 L1189.5,227.9 L1190.0,223.0 L1190.5,218.1 L1191.0,213.4 L1191.5,208.6 L1192.0,204.0 L1192.5,199.4 L1193.0,194.9 L1193.5,190.6 L1194.0,186.3 L1194.5,182.1 L1195.0,178.1 L1195.5,174.1 L1196.0,170.3 L1196.5,166.7 L1197.0,163.1 L1197.5,159.7 L1198.0,156.5 L1198.5,153.4 L1199.0,150.5 L1199.5,147.8 L1200.0,145.2 L1200.5,142.8 L1201.0,140.5 L1201.5,138.5 L1202.0,136.6 L1202.5,134.9 L1203.0,133.4 L1203.5,132.1 L1204.0,131.0 L1204.5,130.0 L1205.0,129.3 L1205.5,128.8 L1206.0,128.4 L1206.5,128.3 L1207.0,128.4 L1207.5,128.8 L1208.0,129.5 L1208.5,130.5 L1209.0,131.9 L1209.5,133.5 L1210.0,135.4 L1210.5,137.6 L1211.0,140.1 L1211.5,142.9 L1212.0,146.0 L1212.5,149.3 L1213.0,152.9 L1213.5,156.8 L1214.0,160.9 L1214.5,165.2 L1215.0,169.7 L1215.5,174.5 L1216.0,179.5 L1216.5,184.6 L1217.0,189.9 L1217.5,195.4 L1218.0,201.0 L1218.5,206.8 L1219.0,212.7 L1219.5,218.7 L1220.0,224.8 L1220.5,231.0 L1221.0,237.2 L1221.5,243.5 L1222.0,249.8 L1222.5,256.1 L1223.0,262.4 L1223.5,268.8 L1224.0,275.0 L1224.5,281.3 L1225.0,287.4 L1225.5,293.5 L1226.0,299.5 L1226.5,305.4 L1227.0,311.1 L1227.5,316.8 L1228.0,322.2 L1228.5,327.5 L1229.0,332.6 L1229.5,337.4 L1230.0,342.1 L1230.5,346.5 L1231.0,350.7 L1231.5,354.6 L1232.0,358.2 L1232.5,361.5 L1233.0,364.5 L1233.5,367.2 L1234.0,369.6 L1234.5,371.5 L1235.0,373.1 L1235.5,374.3 L1236.0,375.0 L1236.5,375.0 L1237.0,374.2 L1237.5,372.8 L1238.0,370.8 L1238.5,368.2 L1239.0,365.1 L1239.5,361.6 L1240.0,357.6 L1240.5,353.2 L1241.0,348.4 L1241.5,343.2 L1242.0,337.6 L1242.5,331.7 L1243.0,325.4 L1243.5,318.9 L1244.0,312.1 L1244.5,304.9 L1245.0,297.6 L1245.5,290.0 L1246.0,282.2 L1246.5,274.2 L1247.0,266.1 L1247.5,257.8 L1248.0,249.4 L1248.5,240.8 L1249.0,232.2 L1249.5,223.6 L1250.0,214.9 L1250.5,206.2 L1251.0,197.4 L1251.5,188.7 L1252.0,180.1 L1252.5,171.5 L1253.0,163.0 L1253.5,154.6 L1254.0,146.3 L1254.5,138.1 L1255.0,130.1 L1255.5,122.3 L1256.0,114.7 L1256.5,107.3 L1257.0,100.2 L1257.5,93.3 L1258.0,86.6 L1258.5,80.2 L1259.0,74.2 L1259.5,68.4 L1260.0,62.9 L1260.5,57.8 L1261.0,53.1 L1261.5,48.6 L1262.0,44.6 L1262.5,40.9 L1263.0,37.6 L1263.5,34.7 L1264.0,32.2 L1264.5,30.1 L1265.0,28.4 L1265.5,27.1 L1266.0,26.2 L1266.5,25.8 L1267.0,25.7 L1267.5,26.0 L1268.0,26.6 L1268.5,27.6 L1269.0,28.8 L1269.5,30.4 L1270.0,32.3 L1270.5,34.6 L1271.0,37.1 L1271.5,39.9 L1272.0,43.0 L1272.5,46.5 L1273.0,50.2 L1273.5,54.2 L1274.0,58.5 L1274.5,63.0 L1275.0,67.8 L1275.5,72.9 L1276.0,78.2 L1276.5,83.7 L1277.0,89.5 L1277.5,95.4 L1278.0,101.6 L1278.5,108.0 L1279.0,114.5 L1279.5,121.2 L1280.0,128.1 L1280.5,135.1 L1281.0,142.2 L1281.5,149.5 L1282.0,156.9 L1282.5,164.3 L1283.0,171.8 L1283.5,179.4 L1284.0,187.1 L1284.5,194.8 L1285.0,202.5 L1285.5,210.2 L1286.0,217.9 L1286.5,225.6 L1287.0,233.2 L1287.5,240.8 L1288.0,248.4 L1288.5,255.8 L1289.0,263.2 L1289.5,270.5 L1290.0,277.6 L1290.5,284.6 L1291.0,291.4 L1291.5,298.1 L1292.0,304.6 L1292.5,310.9 L1293.0,317.0 L1293.5,322.9 L1294.0,328.6 L1294.5,334.0 L1295.0,339.1 L1295.5,344.0 L1296.0,348.5 L1296.5,352.8 L1297.0,356.8 L1297.5,360.4 L1298.0,363.7 L1298.5,366.6 L1299.0,369.1 L1299.5,371.2 L1300.0,372.9 L1300.5,374.2 L1301.0,374.9 L1301.5,375.1 L1302.0,374.7 L1302.5,374.1 L1303.0,373.1 L1303.5,372.0 L1304.0,370.6 L1304.5,369.0 L1305.0,367.2 L1305.5,365.2 L1306.0,363.1 L1306.5,360.7 L1307.0,358.2 L1307.5,355.5 L1308.0,352.7 L1308.5,349.7 L1309.0,346.6 L1309.5,343.3 L1310.0,340.0 L1310.5,336.5 L1311.0,333.0 L1311.5,329.3 L1312.0,325.6 L1312.5,321.7 L1313.0,317.9 L1313.5,313.9 L1314.0,309.9 L1314.5,305.9 L1315.0,301.9 L1315.5,297.8 L1316.0,293.7 L1316.5,289.6 L1317.0,285.5 L1317.5,281.4 L1318.0,277.4 L1318.5,273.4 L1319.0,269.4 L1319.5,265.5 L1320.0,261.6 L1320.5,257.8 L1321.0,254.0 L1321.5,250.4 L1322.0,246.8 L1322.5,243.3 L1323.0,239.9 L1323.5,236.7 L1324.0,233.5 L1324.5,230.5 L1325.0,227.6 L1325.5,224.8 L1326.0,222.2 L1326.5,219.7 L1327.0,217.4 L1327.5,215.2 L1328.0,213.2 L1328.5,211.4 L1329.0,209.7 L1329.5,208.2 L1330.0,206.9 L1330.5,205.7 L1331.0,204.7 L1331.5,203.9 L1332.0,203.3 L1332.5,202.9 L1333.0,202.7 L1333.5,202.6 L1334.0,202.7 L1334.5,203.0 L1335.0,203.5 L1335.5,204.1 L1336.0,204.9 L1336.5,205.9 L1337.0,207.0 L1337.5,208.3 L1338.0,209.8 L1338.5,211.4 L1339.0,213.2 L1339.5,215.1 L1340.0,217.2 L1340.5,219.4 L1341.0,221.7 L1341.5,224.2 L1342.0,226.8 L1342.5,229.6 L1343.0,232.5 L1343.5,235.4 L1344.0,238.5 L1344.5,241.7 L1345.0,245.0 L1345.5,248.4 L1346.0,251.9 L1346.5,255.4 L1347.0,259.1 L1347.5,262.7 L1348.0,266.5 L1348.5,270.3 L1349.0,274.1 L1349.5,278.0 L1350.0,281.9 L1350.5,285.8 L1351.0,289.7 L1351.5,293.7 L1352.0,297.6 L1352.5,301.5 L1353.0,305.4 L1353.5,309.3 L1354.0,313.1 L1354.5,316.9 L1355.0,320.7 L1355.5,324.3 L1356.0,328.0 L1356.5,331.5 L1357.0,335.0 L1357.5,338.4 L1358.0,341.6 L1358.5,344.8 L1359.0,347.9 L1359.5,350.8 L1360.0,353.6 L1360.5,356.3 L1361.0,358.8 L1361.5,361.2 L1362.0,363.4 L1362.5,365.5 L1363.0,367.4 L1363.5,369.1 L1364.0,370.6 L1364.5,372.0 L1365.0,373.1 L1365.5,374.0 L1366.0,374.6 L1366.5,375.0 L1367.0,375.1 L1367.5,374.7 L1368.0,374.1 L1368.5,373.3 L1369.0,372.2 L1369.5,371.0 L1370.0,369.5 L1370.5,367.9 L1371.0,366.1 L1371.5,364.1 L1372.0,361.9 L1372.5,359.6 L1373.0,357.1 L1373.5,354.5 L1374.0,351.8 L1374.5,348.9 L1375.0,346.0 L1375.5,342.9 L1376.0,339.7 L1376.5,336.4 L1377.0,333.0 L1377.5,329.6 L1378.0,326.1 L1378.5,322.5 L1379.0,318.8 L1379.5,315.1 L1380.0,311.4 L1380.5,307.7 L1381.0,303.9 L1381.5,300.1 L1382.0,296.3 L1382.5,292.5 L1383.0,288.7 L1383.5,284.9 L1384.0,281.1 L1384.5,277.4 L1385.0,273.7 L1385.5,270.1 L1386.0,266.5 L1386.5,263.0 L1387.0,259.5 L1387.5,256.1 L1388.0,252.8 L1388.5,249.6 L1389.0,246.5 L1389.5,243.5 L1390.0,240.6 L1390.5,237.8 L1391.0,235.1 L1391.5,232.5 L1392.0,230.1 L1392.5,227.8 L1393.0,225.6 L1393.5,223.6 L1394.0,221.8 L1394.5,220.0 L1395.0,218.5 L1395.5,217.1 L1396.0,215.8 L1396.5,214.7 L1397.0,213.8 L1397.5,213.1 L1398.0,212.5 L1398.5,212.0 L1399.0,211.8 L1399.5,211.7 L1400.0,211.8 L1400.5,212.0 L1401.0,212.5 L1401.5,213.1 L1402.0,213.8 L1402.5,214.7 L1403.0,215.8 L1403.5,217.1 L1404.0,218.5 L1404.5,220.0 L1405.0,221.8 L1405.5,223.6 L1406.0,225.6 L1406.5,227.8 L1407.0,230.1 L1407.5,232.5 L1408.0,235.1 L1408.5,237.8 L1409.0,240.6 L1409.5,243.5 L1410.0,246.5 L1410.5,249.6 L1411.0,252.8 L1411.5,256.1 L1412.0,259.5 L1412.5,263.0 L1413.0,266.5 L1413.5,270.1 L1414.0,273.7 L1414.5,277.4 L1415.0,281.1 L1415.5,284.9 L1416.0,288.7 L1416.5,292.5 L1417.0,296.3 L1417.5,300.1 L1418.0,303.9 L1418.5,307.7 L1419.0,311.4 L1419.5,315.1 L1420.0,318.8 L1420.5,322.5 L1421.0,326.1 L1421.5,329.6 L1422.0,333.0 L1422.5,336.4 L1423.0,339.7 L1423.5,342.9 L1424.0,346.0 L1424.5,348.9 L1425.0,351.8 L1425.5,354.5 L1426.0,357.1 L1426.5,359.6 L1427.0,361.9 L1427.5,364.1 L1428.0,366.1 L1428.5,367.9 L1429.0,369.5 L1429.5,371.0 L1430.0,372.2 L1430.5,373.3 L1431.0,374.1 L1431.5,374.7 L1432.0,375.1 L1432.5,375.0 L1433.0,374.6 L1433.5,374.0 L1434.0,373.1 L1434.5,372.0 L1435.0,370.7 L1435.5,369.2 L1436.0,367.6 L1436.5,365.7 L1437.0,363.7 L1437.5,361.5 L1438.0,359.2 L1438.5,356.7 L1439.0,354.1 L1439.5,351.3 L1440.0,348.5 L1440.5,345.5 L1441.0,342.4 L1441.5,339.2 L1442.0,335.9 L1442.5,332.6 L1443.0,329.1 L1443.5,325.6 L1444.0,322.0 L1444.5,318.4 L1445.0,314.7 L1445.5,311.0 L1446.0,307.2 L1446.5,303.5 L1447.0,299.7 L1447.5,295.9 L1448.0,292.1 L1448.5,288.3 L1449.0,284.5 L1449.5,280.8 L1450.0,277.1 L1450.5,273.4 L1451.0,269.8 L1451.5,266.2 L1452.0,262.7 L1452.5,259.2 L1453.0,255.9 L1453.5,252.6 L1454.0,249.4 L1454.5,246.3 L1455.0,243.3 L1455.5,240.4 L1456.0,237.6 L1456.5,234.9 L1457.0,232.4 L1457.5,230.0 L1458.0,227.7 L1458.5,225.6 L1459.0,223.6 L1459.5,221.7 L1460.0,220.0 L1460.5,218.4 L1461.0,217.0 L1461.5,215.8 L1462.0,214.7 L1462.5,213.8 L1463.0,213.0 L1463.5,212.5 L1464.0,212.0 L1464.5,211.8 L1465.0,211.7 L1465.5,211.8 L1466.0,212.0 L1466.5,212.5 L1467.0,213.1 L1467.5,213.8 L1468.0,214.8 L1468.5,215.9 L1469.0,217.1 L1469.5,218.6 L1470.0,220.1 L1470.5,221.9 L1471.0,223.8 L1471.5,225.8 L1472.0,228.0 L1472.5,230.3 L1473.0,232.8 L1473.5,235.4 L1474.0,238.1 L1474.5,240.9 L1475.0,243.8 L1475.5,246.9 L1476.0,250.0 L1476.5,253.3 L1477.0,256.6 L1477.5,260.0 L1478.0,263.5 L1478.5,267.1 L1479.0,270.7 L1479.5,274.4 L1480.0,278.1 L1480.5,281.8 L1481.0,285.6 L1481.5,289.4 L1482.0,293.3 L1482.5,297.1 L1483.0,300.9 L1483.5,304.7 L1484.0,308.5 L1484.5,312.3 L1485.0,316.1 L1485.5,319.8 L1486.0,323.4 L1486.5,327.0 L1487.0,330.5 L1487.5,334.0 L1488.0,337.3 L1488.5,340.6 L1489.0,343.8 L1489.5,346.9 L1490.0,349.8 L1490.5,352.7 L1491.0,355.4 L1491.5,357.9 L1492.0,360.4 L1492.5,362.6 L1493.0,364.8 L1493.5,366.7 L1494.0,368.5 L1494.5,370.1 L1495.0,371.5 L1495.5,372.7 L1496.0,373.7 L1496.5,374.4 L1497.0,374.9 L1497.5,375.1 L1498.0,374.9 L1498.5,374.4" fill="none" stroke="#3e63b0" stroke-width="2.3"/>
<path d="M942.4,284.5 L949.5,346.3 L959.1,384.5 L967.8,402.7 L977.0,352.0 L987.4,309.0 L998.0,307.6 L1007.5,198.8 L1016.2,265.4 L1023.9,247.6 L1027.7,284.5 L1032.6,359.7 L1042.4,352.0 L1050.5,263.2 L1060.1,181.1 L1067.4,209.4 L1074.1,91.6 L1081.3,245.8 L1083.2,300.8 L1087.8,263.2 L1100.0,357.0 L1111.4,337.2 L1121.8,268.0 L1131.5,283.0 L1140.8,213.5 L1149.8,301.0 L1158.0,366.6 L1166.7,380.7 L1179.2,342.6 L1191.7,219.0 L1204.0,27.2 L1216.0,81.7 L1220.6,232.0 L1226.8,257.6 L1237.5,343.4 L1247.8,208.1 L1257.3,119.8 L1266.4,15.7 L1274.8,202.1 L1282.9,301.0 L1297.2,366.7 L1311.6,330.7 L1322.7,346.2 L1330.6,248.9 L1343.4,271.0 L1356.2,346.2 L1366.6,408.0 L1378.0,319.6 L1388.4,286.2 L1398.7,268.0 L1408.0,293.1 L1417.5,286.0 L1426.2,350.3 L1435.2,397.1 L1447.4,366.7 L1458.9,334.0" fill="none" stroke="#4a82c8" stroke-width="1.35" stroke-dasharray="1.9 2.3"/>
</g>
<g fill="url(#sph)"><circle cx="942.4" cy="284.5" r="5.8"/><circle cx="949.5" cy="346.3" r="5.8"/><circle cx="959.1" cy="384.5" r="5.8"/><circle cx="967.8" cy="402.7" r="5.8"/><circle cx="977.0" cy="352.0" r="5.8"/><circle cx="987.4" cy="309.0" r="5.8"/><circle cx="998.0" cy="307.6" r="5.8"/><circle cx="1007.5" cy="198.8" r="5.8"/><circle cx="1016.2" cy="265.4" r="5.8"/><circle cx="1023.9" cy="247.6" r="5.8"/><circle cx="1027.7" cy="284.5" r="5.8"/><circle cx="1032.6" cy="359.7" r="5.8"/><circle cx="1042.4" cy="352.0" r="5.8"/><circle cx="1050.5" cy="263.2" r="5.8"/><circle cx="1060.1" cy="181.1" r="5.8"/><circle cx="1067.4" cy="209.4" r="5.8"/><circle cx="1074.1" cy="91.6" r="5.8"/><circle cx="1081.3" cy="245.8" r="5.8"/><circle cx="1083.2" cy="300.8" r="5.8"/><circle cx="1087.8" cy="263.2" r="5.8"/><circle cx="1100.0" cy="357.0" r="5.8"/><circle cx="1111.4" cy="337.2" r="5.8"/><circle cx="1121.8" cy="268.0" r="5.8"/><circle cx="1131.5" cy="283.0" r="5.8"/><circle cx="1140.8" cy="213.5" r="5.8"/><circle cx="1149.8" cy="301.0" r="5.8"/><circle cx="1158.0" cy="366.6" r="5.8"/><circle cx="1166.7" cy="380.7" r="5.8"/><circle cx="1179.2" cy="342.6" r="5.8"/><circle cx="1191.7" cy="219.0" r="5.8"/><circle cx="1204.0" cy="27.2" r="5.8"/><circle cx="1216.0" cy="81.7" r="5.8"/><circle cx="1220.6" cy="232.0" r="5.8"/><circle cx="1226.8" cy="257.6" r="5.8"/><circle cx="1237.5" cy="343.4" r="5.8"/><circle cx="1247.8" cy="208.1" r="5.8"/><circle cx="1257.3" cy="119.8" r="5.8"/><circle cx="1266.4" cy="15.7" r="5.8"/><circle cx="1274.8" cy="202.1" r="5.8"/><circle cx="1282.9" cy="301.0" r="5.8"/><circle cx="1297.2" cy="366.7" r="5.8"/><circle cx="1311.6" cy="330.7" r="5.8"/><circle cx="1322.7" cy="346.2" r="5.8"/><circle cx="1330.6" cy="248.9" r="5.8"/><circle cx="1343.4" cy="271.0" r="5.8"/><circle cx="1356.2" cy="346.2" r="5.8"/><circle cx="1366.6" cy="408.0" r="5.8"/><circle cx="1378.0" cy="319.6" r="5.8"/><circle cx="1388.4" cy="286.2" r="5.8"/><circle cx="1398.7" cy="268.0" r="5.8"/><circle cx="1408.0" cy="293.1" r="5.8"/><circle cx="1417.5" cy="286.0" r="5.8"/><circle cx="1426.2" cy="350.3" r="5.8"/><circle cx="1435.2" cy="397.1" r="5.8"/><circle cx="1447.4" cy="366.7" r="5.8"/><circle cx="1458.9" cy="334.0" r="5.8"/></g>
<rect x="885.7" y="5.8" width="611.0" height="460.4" fill="none" stroke="#000" stroke-width="2.8"/>
<path d="M885.5,466 V459 M885.5,5.8 V12.8 M1007.7,466 V459 M1007.7,5.8 V12.8 M1129.9,466 V459 M1129.9,5.8 V12.8 M1252.1,466 V459 M1252.1,5.8 V12.8 M1374.3,466 V459 M1374.3,5.8 V12.8 M1496.5,466 V459 M1496.5,5.8 V12.8 M885.7,400.2 H892.7 M1496.7,400.2 H1489.5 M885.7,334.4 H892.7 M1496.7,334.4 H1489.5 M885.7,268.6 H892.7 M1496.7,268.6 H1489.5 M885.7,202.8 H892.7 M1496.7,202.8 H1489.5 M885.7,137.0 H892.7 M1496.7,137.0 H1489.5 M885.7,71.2 H892.7 M1496.7,71.2 H1489.5" stroke="#000" stroke-width="2.8"/>
<g transform="translate(861.1,505.8) scale(0.946,1)" fill="#1a1a1a"><text x="0.00" y="0" font-family="Liberation Sans" font-size="29.6">7</text><text x="16.46" y="0" font-family="Liberation Sans" font-size="29.6">9</text><text x="32.92" y="0" font-family="Liberation Sans" font-size="29.6">3</text></g>
<g transform="translate(971.7,505.8) scale(0.946,1)" fill="#1a1a1a"><text x="0.00" y="0" font-family="Liberation Sans" font-size="29.6">7</text><text x="16.46" y="0" font-family="Liberation Sans" font-size="29.6">9</text><text x="32.92" y="0" font-family="Liberation Sans" font-size="29.6">3</text><text x="49.37" y="0" font-family="Liberation Sans" font-size="29.6">.</text><text x="57.60" y="0" font-family="Liberation Sans" font-size="29.6">5</text></g>
<g transform="translate(1105.5,505.8) scale(0.946,1)" fill="#1a1a1a"><text x="0.00" y="0" font-family="Liberation Sans" font-size="29.6">7</text><text x="16.46" y="0" font-family="Liberation Sans" font-size="29.6">9</text><text x="32.92" y="0" font-family="Liberation Sans" font-size="29.6">4</text></g>
<g transform="translate(1216.1,505.8) scale(0.946,1)" fill="#1a1a1a"><text x="0.00" y="0" font-family="Liberation Sans" font-size="29.6">7</text><text x="16.46" y="0" font-family="Liberation Sans" font-size="29.6">9</text><text x="32.92" y="0" font-family="Liberation Sans" font-size="29.6">4</text><text x="49.37" y="0" font-family="Liberation Sans" font-size="29.6">.</text><text x="57.60" y="0" font-family="Liberation Sans" font-size="29.6">5</text></g>
<g transform="translate(1349.9,505.8) scale(0.946,1)" fill="#1a1a1a"><text x="0.00" y="0" font-family="Liberation Sans" font-size="29.6">7</text><text x="16.46" y="0" font-family="Liberation Sans" font-size="29.6">9</text><text x="32.92" y="0" font-family="Liberation Sans" font-size="29.6">5</text></g>
<g transform="translate(1424.2,505.8) scale(0.946,1)" fill="#1a1a1a"><text x="0.00" y="0" font-family="Liberation Sans" font-size="29.6">7</text><text x="16.46" y="0" font-family="Liberation Sans" font-size="29.6">9</text><text x="32.92" y="0" font-family="Liberation Sans" font-size="29.6">5</text><text x="49.37" y="0" font-family="Liberation Sans" font-size="29.6">.</text><text x="57.60" y="0" font-family="Liberation Sans" font-size="29.6">5</text></g>
<g transform="translate(858.6,477.6) scale(0.946,1)" fill="#1a1a1a"><text x="0.00" y="0" font-family="Liberation Sans" font-size="29.6">0</text></g>
<g transform="translate(858.6,411.8) scale(0.946,1)" fill="#1a1a1a"><text x="0.00" y="0" font-family="Liberation Sans" font-size="29.6">2</text></g>
<g transform="translate(858.6,346.0) scale(0.946,1)" fill="#1a1a1a"><text x="0.00" y="0" font-family="Liberation Sans" font-size="29.6">4</text></g>
<g transform="translate(858.6,280.2) scale(0.946,1)" fill="#1a1a1a"><text x="0.00" y="0" font-family="Liberation Sans" font-size="29.6">6</text></g>
<g transform="translate(858.6,214.4) scale(0.946,1)" fill="#1a1a1a"><text x="0.00" y="0" font-family="Liberation Sans" font-size="29.6">8</text></g>
<g transform="translate(843.1,148.6) scale(0.946,1)" fill="#1a1a1a"><path d="M11.0,0.0 L8.4,0.0 L8.4,-15.5 Q7.5,-14.7 6.0,-13.8 Q4.4,-13.0 3.2,-12.6 L3.2,-14.9 Q5.4,-15.9 7.0,-17.2 Q8.7,-18.6 9.3,-19.9 L11.0,-19.9 Z"/><text x="16.46" y="0" font-family="Liberation Sans" font-size="29.6">0</text></g>
<g transform="translate(843.1,82.8) scale(0.946,1)" fill="#1a1a1a"><path d="M11.0,0.0 L8.4,0.0 L8.4,-15.5 Q7.5,-14.7 6.0,-13.8 Q4.4,-13.0 3.2,-12.6 L3.2,-14.9 Q5.4,-15.9 7.0,-17.2 Q8.7,-18.6 9.3,-19.9 L11.0,-19.9 Z"/><text x="16.46" y="0" font-family="Liberation Sans" font-size="29.6">2</text></g>
<g transform="translate(843.1,29.0) scale(0.946,1)" fill="#1a1a1a"><path d="M11.0,0.0 L8.4,0.0 L8.4,-15.5 Q7.5,-14.7 6.0,-13.8 Q4.4,-13.0 3.2,-12.6 L3.2,-14.9 Q5.4,-15.9 7.0,-17.2 Q8.7,-18.6 9.3,-19.9 L11.0,-19.9 Z"/><text x="16.46" y="0" font-family="Liberation Sans" font-size="29.6">4</text></g>
<rect x="1303" y="23.8" width="178" height="133.9" fill="#fff"/>
<rect x="1306.9" y="26.9" width="170.2" height="128" fill="#fff" stroke="#1a1a1a" stroke-width="2"/>
<circle cx="1325.2" cy="58.6" r="5.8" fill="url(#sph)"/>
<path d="M1318,128.3 H1343.6" stroke="#4a6fbf" stroke-width="1.8"/>
<g font-family="Liberation Sans" font-size="25.5" fill="#1a1a1a">
<text x="1349" y="57.9">Collective</text><text x="1349" y="87.8">scattering</text>
<text x="1362" y="139">Model</text>
</g>
</svg></body></html>
